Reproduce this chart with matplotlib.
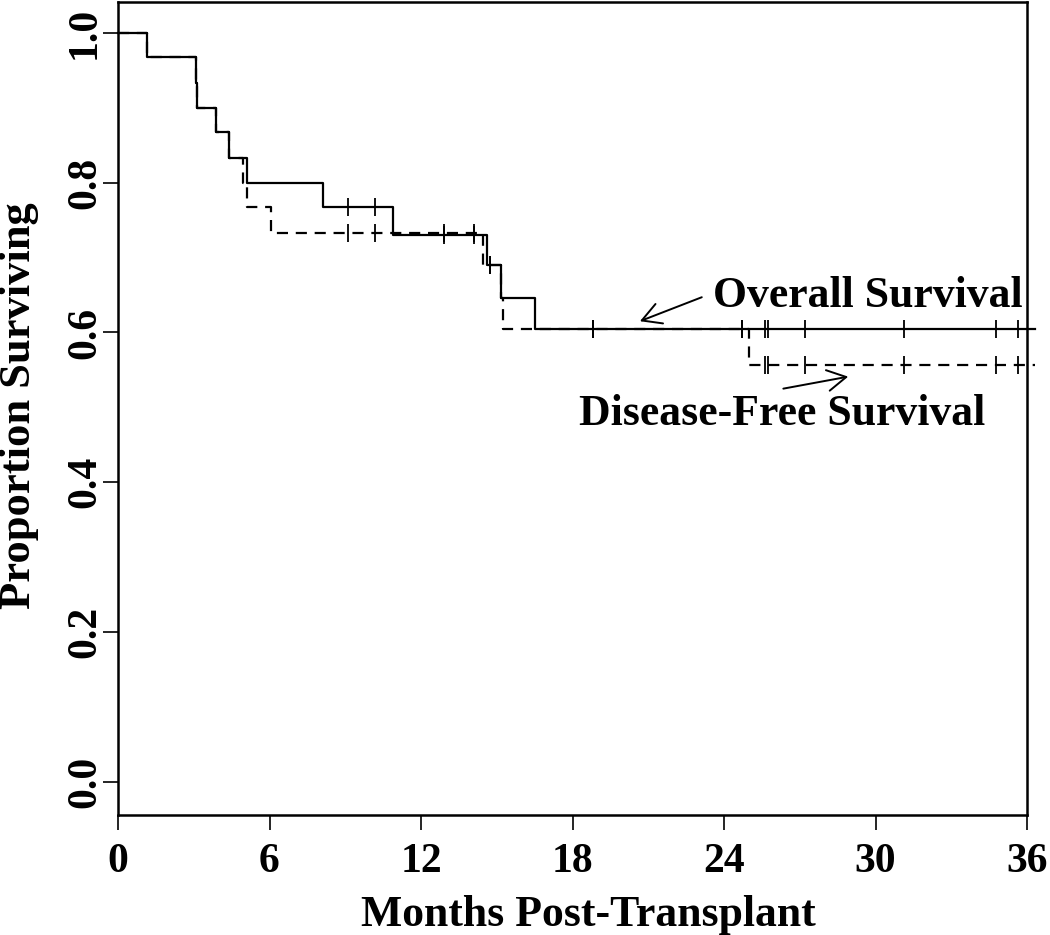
import numpy as np
import matplotlib
matplotlib.use("Agg")
import matplotlib.pyplot as plt

plt.rcParams["font.family"] = ["Liberation Serif", "DejaVu Serif"]
plt.rcParams["font.weight"] = "bold"

# Kaplan-Meier steps (months, proportion)
os_time = [0, 1.14, 3.09, 3.14, 3.88, 4.40, 5.12, 8.10, 10.90, 14.63, 15.15, 16.51, 36.3]
os_surv = [1.0, 0.967, 0.933, 0.900, 0.867, 0.833, 0.800, 0.767, 0.730, 0.690, 0.646, 0.605, 0.605]

dfs_time = [0, 1.14, 3.09, 3.14, 3.88, 4.40, 4.94, 5.10, 6.05, 14.46, 15.15, 15.26, 25.0, 36.3]
dfs_surv = [1.0, 0.967, 0.933, 0.900, 0.867, 0.833, 0.800, 0.767, 0.733, 0.690, 0.646, 0.605, 0.556, 0.556]

# censored observations
censor = [9.12, 10.18, 12.93, 14.10, 14.73, 18.82, 24.70, 25.62, 25.75, 27.20, 31.13, 34.77, 35.66]

xticks = [0, 6, 12, 18, 24, 30, 36]
yticks = [0.0, 0.2, 0.4, 0.6, 0.8, 1.0]
ytick_labels = ["0.0", "0.2", "0.4", "0.6", "0.8", "1.0"]


def step_at(t, times, surv):
    i = np.searchsorted(times, t, side="right") - 1
    return np.asarray(surv)[i]


fig = plt.figure(figsize=(10.5, 9.35), dpi=100)
ax = fig.add_axes([118 / 1050, 1 - 815 / 935, 909 / 1050, 813 / 935])

ax.step(os_time, os_surv, where="post", color="black", lw=1.6, clip_on=False)
ax.step(dfs_time, dfs_surv, where="post", color="black", lw=1.6,
        linestyle=(0, (5, 3.5)), clip_on=False)

ax.plot(censor, step_at(censor, os_time, os_surv), ls="none", marker="|",
        ms=13, mew=1.3, color="black")
ax.plot(censor, step_at(censor, dfs_time, dfs_surv), ls="none", marker="|",
        ms=13, mew=1.3, color="black")

arrow = dict(arrowstyle="->,head_length=0.45,head_width=0.25", lw=1.4,
             color="black", mutation_scale=30, shrinkA=0, shrinkB=0)
ax.annotate("", xy=(20.67, 0.615), xytext=(23.12, 0.647), arrowprops=arrow)
ax.annotate("", xy=(28.92, 0.541), xytext=(26.35, 0.525), arrowprops=arrow)
ax.text(23.56, 0.634, "Overall Survival", fontsize=31.5, fontweight="bold",
        ha="left", va="baseline")
ax.text(18.26, 0.476, "Disease-Free Survival", fontsize=31.5, fontweight="bold",
        ha="left", va="baseline")

ax.set_xlim(0, 36)
ax.set_ylim(-0.044, 1.041)
ax.set_xticks(xticks)
ax.set_yticks(yticks)
ax.set_yticklabels(ytick_labels, rotation=90, va="center")
ax.tick_params(axis="both", direction="out", length=11, width=1.2,
               labelsize=30, colors="black")
ax.tick_params(axis="x", pad=9)
ax.tick_params(axis="y", pad=-1)
for s in ax.spines.values():
    s.set_linewidth(1.8)

ax.set_xlabel("Months Post-Transplant", fontsize=31.5, fontweight="bold")
ax.xaxis.set_label_coords(0.517, -0.099)
ax.set_ylabel("Proportion Surviving", fontsize=32, fontweight="bold")
ax.yaxis.set_label_coords(-0.087, 0.503)

fig.savefig("out.png", dpi=100)
